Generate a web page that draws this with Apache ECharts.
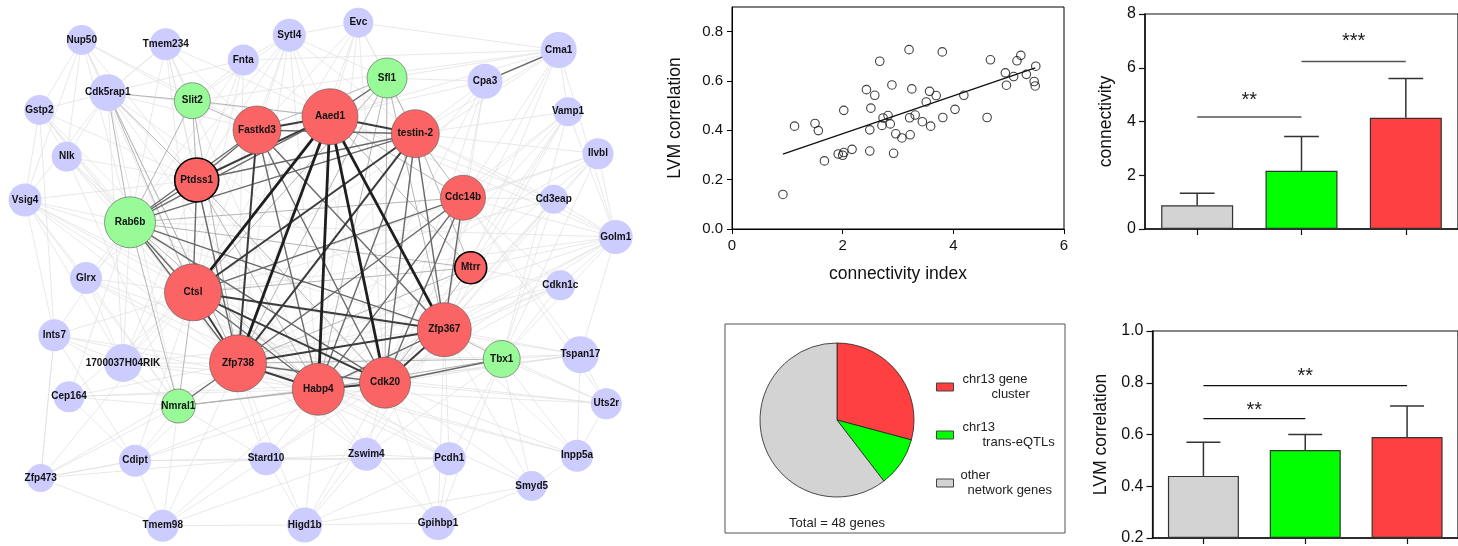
<!DOCTYPE html>
<html><head><meta charset="utf-8">
<script src="https://cdn.jsdelivr.net/npm/echarts@6/dist/echarts.min.js"></script>
<style>html,body{margin:0;padding:0;background:#fff}#c{width:1458px;height:546px}</style>
</head><body><div id="c"></div>
<script>
// ---------------- DATA ----------------
// Network nodes
const nodeNames = ['Nup50','Tmem234','Fnta','Sytl4','Evc','Cma1','Cpa3','Cdk5rap1','Gstp2','Vamp1','Nlk','Ilvbl','Vsig4','Cd3eap','Golm1','Glrx','Cdkn1c','Ints7','1700037H04RIK','Tspan17','Cep164','Uts2r','Cdipt','Stard10','Zswim4','Pcdh1','Inpp5a','Zfp473','Smyd5','Tmem98','Higd1b','Gpihbp1',
  'Slit2','Sfl1','Rab6b','Nmral1','Tbx1',
  'Aaed1','Fastkd3','testin-2','Ptdss1','Cdc14b','Mtrr','Ctsl','Zfp738','Zfp367','Habp4','Cdk20'];
const nodeGroup = ['o','o','o','o','o','o','o','o','o','o','o','o','o','o','o','o','o','o','o','o','o','o','o','o','o','o','o','o','o','o','o','o',
  'e','e','e','e','e',
  'c','c','c','c','c','c','c','c','c','c','c'];
// layout coordinates of the drawn network
const nodeX = [81.7,165.7,243.3,289.3,358.3,558.7,485,107.7,39.3,568,66.7,598,25,553.7,615.7,86,560.3,54.3,123,580.3,69,606.3,135,266,366.3,449.3,577,40.7,531.7,162.7,304.7,438,
  192.3,387,130,178.3,501.7,
  330,257,415.3,196.7,463,470.7,193,238,444.3,318.3,385];
const nodeY = [40,44.3,60,35.3,22.7,50,81.3,92.7,110,111.7,156.7,153.7,200,199.3,237,278,285.3,335.3,363,354.7,396.7,403.7,460.7,458.7,454.3,458.7,455.7,478,486,525.7,525,523,
  100.7,78,222.3,406,359,
  116.7,130,133.7,180,197.7,267.7,292.3,363.3,329.7,389.3,382.7];
const nodeDegree = [30,32,31,33,30,36,35,37,30,29,30,31,33,29,34,32,30,32,38,37,31,31,32,33,33,33,32,28,30,32,35,34,
  36,40,51,34,37,
  56,48,48,44,45,32,57,57,54,52,51];
const ringedNodes = ['Ptdss1','Mtrr'];

// Edges by strength
const edgesStrongest = ['Aaed1|Ctsl','Aaed1|Zfp367','Aaed1|Zfp738','Aaed1|Habp4','Aaed1|Cdk20'];
const edgesStrong = ['Aaed1|testin-2','Ctsl|Zfp367','Ctsl|Cdk20','Cdk20|Zfp367','testin-2|Ctsl','testin-2|Zfp738','Fastkd3|Zfp738','Aaed1|Fastkd3','Ctsl|Zfp738','Zfp738|Habp4','Habp4|Cdk20','Zfp738|Zfp367','Aaed1|Ptdss1'];
const edgesMedium = ['testin-2|Cdk20','testin-2|Zfp367','testin-2|Habp4','testin-2|Fastkd3','testin-2|Rab6b','Fastkd3|Ptdss1','Fastkd3|Rab6b','Fastkd3|Cdk20','Fastkd3|Habp4','Aaed1|Rab6b','Ctsl|Habp4','Ctsl|Rab6b','Zfp738|Cdk20','Habp4|Zfp367','Cdc14b|Zfp738','Cdc14b|Cdk20','Cdc14b|Ctsl','Ptdss1|Rab6b','Ptdss1|Ctsl','Rab6b|Zfp738','Rab6b|Cdk20','Rab6b|Zfp367','Cma1|Cpa3','Ptdss1|Zfp738','Fastkd3|Zfp367','Cdc14b|Habp4','Cdc14b|Zfp367','testin-2|Ptdss1','Sfl1|Aaed1','Nmral1|Zfp738','Tbx1|Cdk20'];
const edgesLight = ['Nmral1|Habp4','Nmral1|Ctsl','Nmral1|Cdk20','Tbx1|Zfp367','Tbx1|Habp4','Tbx1|Zfp738','Sfl1|testin-2','Sfl1|Fastkd3','Sfl1|Cdk20','Sfl1|Zfp367','Sfl1|Habp4','Sfl1|Ctsl','Slit2|Fastkd3','Slit2|Aaed1','Slit2|Ptdss1','Slit2|Cdk5rap1','Slit2|Zfp738','Mtrr|Zfp738','Mtrr|Ctsl','Mtrr|Aaed1','Mtrr|Rab6b','Rab6b|Cdc14b','Rab6b|Habp4','Cdk5rap1|Rab6b','Cdk5rap1|Ctsl','Cdk5rap1|Zfp738','Cdk5rap1|Ptdss1','Cdc14b|Aaed1','Cdc14b|testin-2','Mtrr|Cdk20','Mtrr|testin-2','Ptdss1|Habp4','Ptdss1|Cdk20','Rab6b|Nmral1','Slit2|Rab6b','Sfl1|Zfp738'];
const edgesFaint = [
  'Nup50: Cdk5rap1 Ptdss1 Rab6b Ctsl Zfp738 Fastkd3 Nlk Vsig4 Gstp2 Slit2',
  'Tmem234: Cdk5rap1 Slit2 Ptdss1 Rab6b Ctsl Aaed1 Fastkd3 Zfp738 Habp4',
  'Fnta: Slit2 Ptdss1 Rab6b Ctsl Aaed1 Zfp738 Sytl4 Cdk5rap1 Cma1',
  'Sytl4: Aaed1 Fastkd3 Slit2 Ptdss1 Zfp738 Ctsl Cdk20 Habp4 testin-2 Sfl1 Evc Rab6b',
  'Evc: Aaed1 Sfl1 testin-2 Fastkd3 Ctsl Zfp738 Cdk20 Cma1 Habp4',
  'Cma1: Sfl1 Aaed1 testin-2 Cdc14b Zfp367 Ctsl Golm1 Slit2 Cdk20 Vamp1',
  'Cpa3: Sfl1 Aaed1 testin-2 Zfp367 Cdk20 Zfp738 Cdc14b Habp4',
  'Cdk5rap1: Habp4 Fastkd3 Aaed1 Nmral1 Cdk20 Zfp367 Gstp2 Tmem234',
  'Gstp2: Rab6b Ptdss1 Ctsl Vsig4 Nlk Zfp738 Ints7 Habp4',
  'Vamp1: Cdc14b Zfp367 Cdk20 Tbx1 testin-2 Habp4 Mtrr Zfp738',
  'Nlk: Rab6b Ctsl Ptdss1 Zfp738 Nmral1 Cdk5rap1 Habp4',
  'Ilvbl: Cdc14b Zfp367 Cdk20 Tbx1 Zfp738 Habp4 testin-2 Ctsl',
  'Vsig4: Rab6b Ctsl Ptdss1 Zfp738 Habp4 Nmral1 1700037H04RIK Glrx Ints7 Cdk5rap1 Cdk20 Zfp367',
  'Cd3eap: Cdc14b Zfp367 testin-2 Aaed1 Tbx1 Golm1 Cdk20 Ctsl',
  'Golm1: Cdc14b Zfp367 Cdk20 Tbx1 Habp4 Mtrr testin-2 Zfp738 Aaed1 Tspan17 Ilvbl Vamp1 Cdkn1c Ctsl Rab6b',
  'Glrx: Ctsl Rab6b Zfp738 Nmral1 Habp4 Ptdss1 1700037H04RIK Cdk20',
  'Cdkn1c: Zfp367 Cdk20 Tbx1 Cdc14b Habp4 Mtrr Zfp738',
  'Ints7: Ctsl Rab6b Zfp738 Nmral1 1700037H04RIK Cdipt Zfp473 Habp4',
  '1700037H04RIK: Ctsl Rab6b Zfp738 Nmral1 Habp4 Cdk20 Ptdss1 Cdk5rap1 Fastkd3 Zfp367 Aaed1',
  'Tspan17: Zfp367 Cdk20 Tbx1 Habp4 Zfp738 Ctsl Cdc14b Uts2r Nmral1',
  'Cep164: Ctsl Nmral1 Zfp738 Rab6b Habp4 Cdipt Cdk20',
  'Uts2r: Zfp367 Cdk20 Tbx1 Habp4 Cdc14b Inpp5a Zfp738',
  'Cdipt: Nmral1 Zfp738 Habp4 Stard10 Zfp473 Tmem98 Ctsl Cdk20 Pcdh1',
  'Stard10: Zfp738 Habp4 Cdk20 Nmral1 Ctsl Higd1b Zswim4 Pcdh1 Zfp367',
  'Zswim4: Habp4 Cdk20 Zfp738 Zfp367 Higd1b Gpihbp1 Ctsl Tbx1',
  'Pcdh1: Cdk20 Zfp367 Habp4 Tbx1 Zfp738 Gpihbp1 Zswim4 Higd1b Ctsl',
  'Inpp5a: Zfp367 Tbx1 Cdk20 Habp4 Smyd5 Tspan17 Zfp738',
  'Zfp473: Cdipt Nmral1 Ctsl Zfp738 Ints7 Tmem98 Stard10',
  'Smyd5: Zfp367 Tbx1 Cdk20 Higd1b Gpihbp1 Habp4',
  'Tmem98: Higd1b Nmral1 Zfp738 Stard10 Zswim4 Habp4',
  'Higd1b: Gpihbp1 Habp4 Cdk20 Zfp738 Zfp367',
  'Gpihbp1: Cdk20 Zfp367 Habp4 Tbx1'
];

// Scatter: connectivity index vs LVM correlation
const connIndex = [0.92,1.13,1.50,1.56,1.67,1.92,2.00,2.02,2.02,2.17,2.43,2.51,2.49,2.49,2.58,2.67,2.71,2.73,2.82,2.86,2.89,2.92,2.96,3.07,3.20,3.21,3.22,3.25,3.31,3.44,3.51,3.57,3.59,3.69,3.80,3.81,4.03,4.19,4.61,4.67,4.94,4.96,5.09,5.15,5.22,5.32,5.46,5.48,5.49];
const lvmCorr   = [0.140,0.417,0.428,0.399,0.276,0.304,0.299,0.310,0.481,0.323,0.565,0.490,0.402,0.316,0.542,0.680,0.420,0.450,0.460,0.426,0.584,0.307,0.386,0.369,0.727,0.451,0.382,0.568,0.462,0.435,0.515,0.558,0.417,0.541,0.718,0.452,0.485,0.542,0.452,0.686,0.633,0.583,0.618,0.682,0.704,0.627,0.598,0.580,0.660];
const trendX = [0.92, 5.48];
const trendY = [0.304, 0.653];
const scatterYTicks = [0, 0.2, 0.4, 0.6, 0.8];

// Pie
const pieLabels = ['chr13 gene cluster', 'chr13 trans-eQTLs', 'other network genes'];
const pieCounts = [14, 5, 29];
const pieTotalText = 'Total = 48 genes';

// Bars (gray, green, red)
const barGroups = ['other network genes', 'chr13 trans-eQTLs', 'chr13 gene cluster'];
const connMean = [0.88, 2.17, 4.14];
const connUpper = [1.33, 3.44, 5.60];
const corrMean = [0.44, 0.54, 0.59];
const corrUpper = [0.57, 0.60, 0.71];
// significance brackets: [fromIndex, toIndex, lineValue, starValue]
const connSig = [[0, 1, 4.17, 4.80], [1, 2, 6.23, 6.97]];
const connStars = ['**', '***'];
const corrSig = [[0, 1, 0.661, 0.694], [0, 2, 0.789, 0.823]];
const corrStars = ['**', '**'];

// ---------------- STYLE / BUILD ----------------
const FONT = 'Arial, "Liberation Sans", Helvetica, sans-serif';
const barColors = ['#D3D3D3', '#00FF00', '#FF4040'];
const pieColors = ['#FF4040', '#00FF00', '#D3D3D3'];
const groupColor = {o: '#CCCCFF', e: '#98FB98', c: '#FA6464'};

const nodes = nodeNames.map((n, i) => {
  const g = nodeGroup[i];
  const ring = ringedNodes.includes(n);
  return {
    name: n, value: [nodeX[i], nodeY[i]], symbolSize: nodeDegree[i],
    itemStyle: {
      color: groupColor[g],
      borderColor: ring ? '#000' : (g === 'o' ? 'rgba(0,0,0,0)' : '#555'),
      borderWidth: ring ? 1.6 : (g === 'o' ? 0 : 0.6)
    }
  };
});
const links = [];
edgesFaint.forEach(s => {
  const [src, rest] = s.split(':');
  rest.trim().split(/\s+/).forEach(t => links.push({source: src.trim(), target: t, lineStyle: {color: '#e0e0e0', width: 0.7, opacity: 1}}));
});
const addTier = (arr, color, width) => arr.forEach(p => {
  const [a, b] = p.split('|');
  links.push({source: a, target: b, lineStyle: {color, width, opacity: 1}});
});
addTier(edgesLight, '#adadad', 0.9);
addTier(edgesMedium, '#6a6a6a', 1.4);
addTier(edgesStrong, '#3c3c3c', 2);
addTier(edgesStrongest, '#1e1e1e', 2.8);

function errRender(params, api) {
  const i = api.value(0), top = api.value(1), base = api.value(2);
  const p1 = api.coord([i, base]), p2 = api.coord([i, top]);
  const capW = api.size([1, 0])[0] / 3;
  const st = {stroke: '#333', lineWidth: 1.5};
  return {type: 'group', children: [
    {type: 'line', shape: {x1: p1[0], y1: p1[1], x2: p2[0], y2: p2[1]}, style: st},
    {type: 'line', shape: {x1: p2[0] - capW / 2, y1: p2[1], x2: p2[0] + capW / 2, y2: p2[1]}, style: st}
  ]};
}
function sigRender(stars, color, lw) {
  return function (params, api) {
    const a = api.value(0), b = api.value(1), yl = api.value(2), yt = api.value(3);
    const p0 = api.coord([a, yl]), p1 = api.coord([b, yl]);
    const pt = api.coord([a, yt]);
    return {type: 'group', children: [
      {type: 'line', shape: {x1: p0[0], y1: p0[1], x2: p1[0], y2: p1[1]}, style: {stroke: color, lineWidth: lw}},
      {type: 'text', x: (p0[0] + p1[0]) / 2, y: pt[1], style: {text: stars[params.dataIndex], font: '20px ' + FONT, fill: '#222', align: 'center', verticalAlign: 'middle'}}
    ]};
  };
}

const axisLineBlack = {show: true, lineStyle: {color: '#000', width: 1}};
const legendRich = {
  a1: {fontSize: 13, fontFamily: FONT, color: '#222', lineHeight: 15, padding: [0, 0, 0, 4]},
  b1: {fontSize: 13, fontFamily: FONT, color: '#222', lineHeight: 15, padding: [0, 0, 0, 33]},
  a2: {fontSize: 13, fontFamily: FONT, color: '#222', lineHeight: 15, padding: [0, 0, 0, 4]},
  b2: {fontSize: 13, fontFamily: FONT, color: '#222', lineHeight: 15, padding: [0, 0, 0, 24]},
  a3: {fontSize: 13, fontFamily: FONT, color: '#222', lineHeight: 15, padding: [0, 0, 0, 2]},
  b3: {fontSize: 13, fontFamily: FONT, color: '#222', lineHeight: 15, padding: [0, 0, 0, 9]}
};
const legendText = {
  'chr13 gene cluster': '{a1|chr13 gene}\n{b1|cluster}',
  'chr13 trans-eQTLs': '{a2|chr13}\n{b2|trans-eQTLs}',
  'other network genes': '{a3|other}\n{b3|network genes}'
};
const catTick = {show: true, alignWithLabel: true, interval: 0, length: 6, lineStyle: {color: '#111', width: 1.2}};

const option = {
  animation: false,
  backgroundColor: '#fff',
  textStyle: {fontFamily: FONT},
  grid: [
    {left: 732, top: 7, width: 332, height: 222, show: true, borderColor: '#000', borderWidth: 1, backgroundColor: 'transparent'},
    {left: 1145, top: 14, width: 324, height: 215, show: true, borderColor: '#111', borderWidth: 1.2, backgroundColor: 'transparent'},
    {left: 1152.5, top: 331, width: 319, height: 213, show: true, borderColor: '#111', borderWidth: 1.2, backgroundColor: 'transparent'},
    {left: 0, top: 0, width: 640, height: 546, show: false}
  ],
  xAxis: [
    {type: 'value', gridIndex: 0, min: 0, max: 6, interval: 2, splitLine: {show: false},
     axisLine: axisLineBlack, axisTick: {show: true, length: 5, lineStyle: {color: '#000'}},
     axisLabel: {fontSize: 15, color: '#111', margin: 9},
     name: 'connectivity index', nameLocation: 'middle', nameGap: 36,
     nameTextStyle: {fontSize: 17.5, color: '#111'}},
    {type: 'category', gridIndex: 1, data: barGroups, axisLine: {show: true, lineStyle: {color: '#111', width: 1.5}},
     axisTick: catTick, axisLabel: {show: false, interval: 0}},
    {type: 'category', gridIndex: 2, data: barGroups, axisLine: {show: true, lineStyle: {color: '#111', width: 1.5}},
     axisTick: catTick, axisLabel: {show: false, interval: 0}},
    {type: 'value', gridIndex: 3, min: 0, max: 640, show: false}
  ],
  yAxis: [
    {type: 'value', gridIndex: 0, min: 0, max: 0.9, interval: 0.2, splitLine: {show: false},
     axisLine: axisLineBlack,
     axisTick: {show: true, length: 5, lineStyle: {color: '#000'}, customValues: scatterYTicks},
     axisLabel: {fontSize: 15, color: '#111', margin: 9, customValues: scatterYTicks, formatter: v => v.toFixed(1)},
     name: 'LVM correlation', nameLocation: 'middle', nameGap: 48, nameTextStyle: {fontSize: 17.5, color: '#111'}},
    {type: 'value', gridIndex: 1, min: 0, max: 8, interval: 2, splitLine: {show: false},
     axisLine: {show: true, lineStyle: {color: '#111', width: 1.5}},
     axisTick: {show: true, length: 6, lineStyle: {color: '#111', width: 1.2}},
     axisLabel: {fontSize: 16, color: '#111', margin: 9},
     name: 'connectivity', nameLocation: 'middle', nameGap: 30, nameTextStyle: {fontSize: 17.5, color: '#111'}},
    {type: 'value', gridIndex: 2, min: 0.2, max: 1.0, interval: 0.2, startValue: 0.2, splitLine: {show: false},
     axisLine: {show: true, lineStyle: {color: '#111', width: 1.5}},
     axisTick: {show: true, length: 6, lineStyle: {color: '#111', width: 1.2}},
     axisLabel: {fontSize: 16, color: '#111', margin: 9, formatter: v => v.toFixed(1)},
     name: 'LVM correlation', nameLocation: 'middle', nameGap: 42, nameTextStyle: {fontSize: 17.5, color: '#111'}},
    {type: 'value', gridIndex: 3, min: 0, max: 546, inverse: true, show: false}
  ],
  legend: {
    data: pieLabels, orient: 'vertical', left: 931, top: 368, icon: 'rect',
    itemWidth: 17, itemHeight: 8, itemGap: 20, selectedMode: false,
    itemStyle: {borderColor: '#444', borderWidth: 1},
    formatter: n => legendText[n], textStyle: {rich: legendRich}
  },
  graphic: [
    {type: 'rect', shape: {x: 725, y: 324, width: 340, height: 209}, style: {fill: 'none', stroke: '#555', lineWidth: 1}, silent: true},
    {type: 'text', x: 837, y: 523, style: {text: pieTotalText, font: '13px ' + FONT, fill: '#222', align: 'center', verticalAlign: 'middle'}, silent: true}
  ],
  series: [
    {type: 'graph', coordinateSystem: 'cartesian2d', xAxisIndex: 3, yAxisIndex: 3, layout: 'none', roam: false,
     data: nodes, links: links, silent: true,
     label: {show: true, position: 'inside', fontSize: 10, fontWeight: 'bold', color: '#111', fontFamily: FONT},
     labelLayout: {hideOverlap: false},
     lineStyle: {curveness: 0},
     emphasis: {disabled: true}},
    {type: 'line', xAxisIndex: 0, yAxisIndex: 0, data: trendX.map((x, i) => [x, trendY[i]]), symbol: 'none',
     lineStyle: {color: '#111', width: 1.3}, silent: true},
    {type: 'scatter', xAxisIndex: 0, yAxisIndex: 0, data: connIndex.map((x, i) => [x, lvmCorr[i]]),
     symbol: 'circle', symbolSize: 8.5, itemStyle: {color: 'rgba(0,0,0,0)', borderColor: '#111', borderWidth: 1.1}, silent: true},
    {type: 'pie', name: 'genes', center: [837, 420], radius: 77, startAngle: 90, clockwise: true,
     data: pieLabels.map((n, i) => ({name: n, value: pieCounts[i], itemStyle: {color: pieColors[i]}})),
     label: {show: false}, labelLine: {show: false}, silent: true,
     itemStyle: {borderColor: '#222', borderWidth: 0.8}, emphasis: {disabled: true}},
    {type: 'bar', xAxisIndex: 1, yAxisIndex: 1, barWidth: 72, silent: true,
     data: connMean.map((v, i) => ({value: v, itemStyle: {color: barColors[i]}})),
     itemStyle: {borderColor: '#333', borderWidth: 1.2}},
    {type: 'custom', xAxisIndex: 1, yAxisIndex: 1, renderItem: errRender, silent: true, z: 3,
     data: connMean.map((v, i) => [i, connUpper[i], v])},
    {type: 'custom', xAxisIndex: 1, yAxisIndex: 1, renderItem: sigRender(connStars, '#555', 1.6), silent: true, z: 3,
     data: connSig},
    {type: 'bar', xAxisIndex: 2, yAxisIndex: 2, barWidth: 71, silent: true,
     data: corrMean.map((v, i) => ({value: v, itemStyle: {color: barColors[i]}})),
     itemStyle: {borderColor: '#333', borderWidth: 1.2}},
    {type: 'custom', xAxisIndex: 2, yAxisIndex: 2, renderItem: errRender, silent: true, z: 3,
     data: corrMean.map((v, i) => [i, corrUpper[i], v])},
    {type: 'custom', xAxisIndex: 2, yAxisIndex: 2, renderItem: sigRender(corrStars, '#111', 1.2), silent: true, z: 3,
     data: corrSig}
  ]
};
const chart = echarts.init(document.getElementById('c'), null, {renderer: 'canvas'});
chart.setOption(option);
</script>
</body></html>
